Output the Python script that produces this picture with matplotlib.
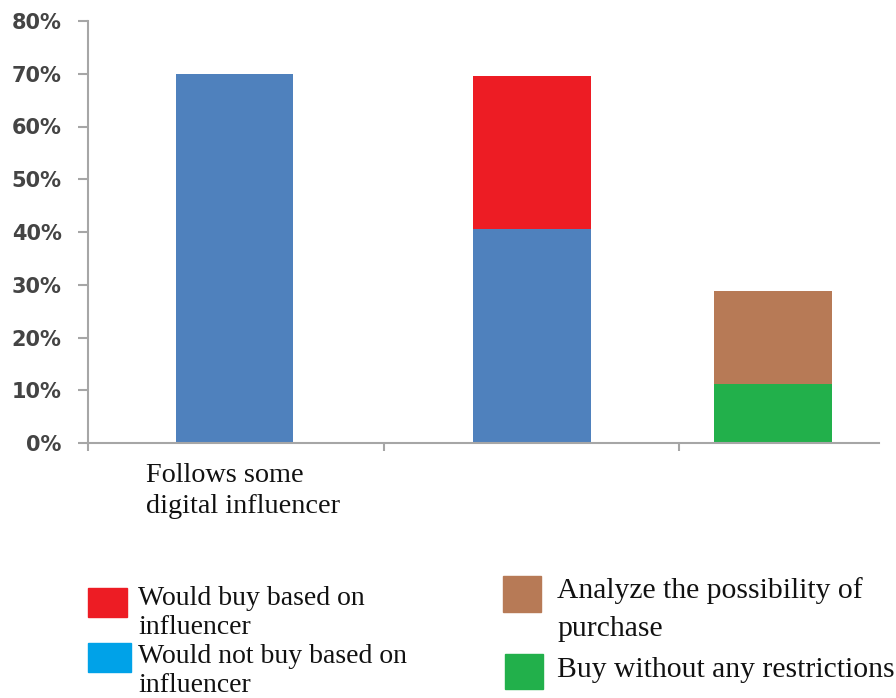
import matplotlib.pyplot as plt
from matplotlib.patches import Rectangle
from matplotlib.ticker import PercentFormatter

# stacked shares per column (fractions)
col1_not_buy = [0.70]
col2_not_buy = [0.405]
col2_buy = [0.29]
col3_no_restrictions = [0.112]
col3_analyze = [0.176]

category_label = "Follows some\ndigital influencer"
left_legend = ["Would buy based on\ninfluencer", "Would not buy based on\ninfluencer"]
right_legend = ["Analyze the possibility of\npurchase", "Buy without any restrictions"]

bar_blue = "#4F81BD"
red = "#ED1C24"
light_blue = "#00A2E8"
brown = "#B77A56"
green = "#22B04B"

W, H = 896, 698
fig = plt.figure(figsize=(W / 100, H / 100), dpi=100)
ax = fig.add_axes([88 / W, 1 - 443 / H, (879 - 88) / W, (443 - 21) / H])

width = 0.398
x1, x2, x3 = 0.496, 1.503, 2.319
ax.bar(x1, col1_not_buy, width, color=bar_blue)
ax.bar(x2, col2_not_buy, width, color=bar_blue)
ax.bar(x2, col2_buy, width, bottom=col2_not_buy, color=red)
ax.bar(x3, col3_no_restrictions, width, color=green)
ax.bar(x3, col3_analyze, width, bottom=col3_no_restrictions, color=brown)

ax.set_xlim(0, (879 - 88) / 295.5)
ax.set_ylim(0, 0.8)
ax.set_yticks([i / 10 for i in range(9)])
ax.yaxis.set_major_formatter(PercentFormatter(1.0, decimals=0))
ax.set_xticks([0, 1, 2])
ax.set_xticklabels([])

for side in ("top", "right"):
    ax.spines[side].set_visible(False)
for side in ("left", "bottom"):
    ax.spines[side].set_color("#A6A6A6")
    ax.spines[side].set_linewidth(1.5)
ax.tick_params(axis="y", length=7, width=1.5, color="#A6A6A6", pad=12,
               labelsize=15, labelcolor="#444444")
ax.tick_params(axis="x", length=6, width=1.5, color="#A6A6A6")
for lbl in ax.get_yticklabels():
    lbl.set_fontweight("bold")

serif = "Liberation Serif"


def lines_at(x, y0, text, step, size):
    for i, line in enumerate(text.split("\n")):
        fig.text(x / W, 1 - (y0 + i * step) / H, line, family=serif,
                 fontsize=size, color="#111111", va="baseline", ha="left")


lines_at(146, 482, category_label, 31, 20.3)

# legend, left block
left_colors = [red, light_blue]
left_boxes = [(88, 588, 39, 29), (88, 643, 43, 29)]
left_base = [605, 663]
for (bx, by, bw, bh), c, lab, yb in zip(left_boxes, left_colors, left_legend, left_base):
    fig.patches.append(Rectangle((bx / W, 1 - (by + bh) / H), bw / W, bh / H,
                                 transform=fig.transFigure, color=c))
    lines_at(138, yb, lab, 29, 20)

# legend, right block
right_colors = [brown, green]
right_boxes = [(503, 576, 38, 36), (505, 654, 38, 35)]
right_base = [598, 677]
for (bx, by, bw, bh), c, lab, yb in zip(right_boxes, right_colors, right_legend, right_base):
    fig.patches.append(Rectangle((bx / W, 1 - (by + bh) / H), bw / W, bh / H,
                                 transform=fig.transFigure, color=c))
    lines_at(557, yb, lab, 38, 21.3)

fig.savefig("out.png", dpi=100)
